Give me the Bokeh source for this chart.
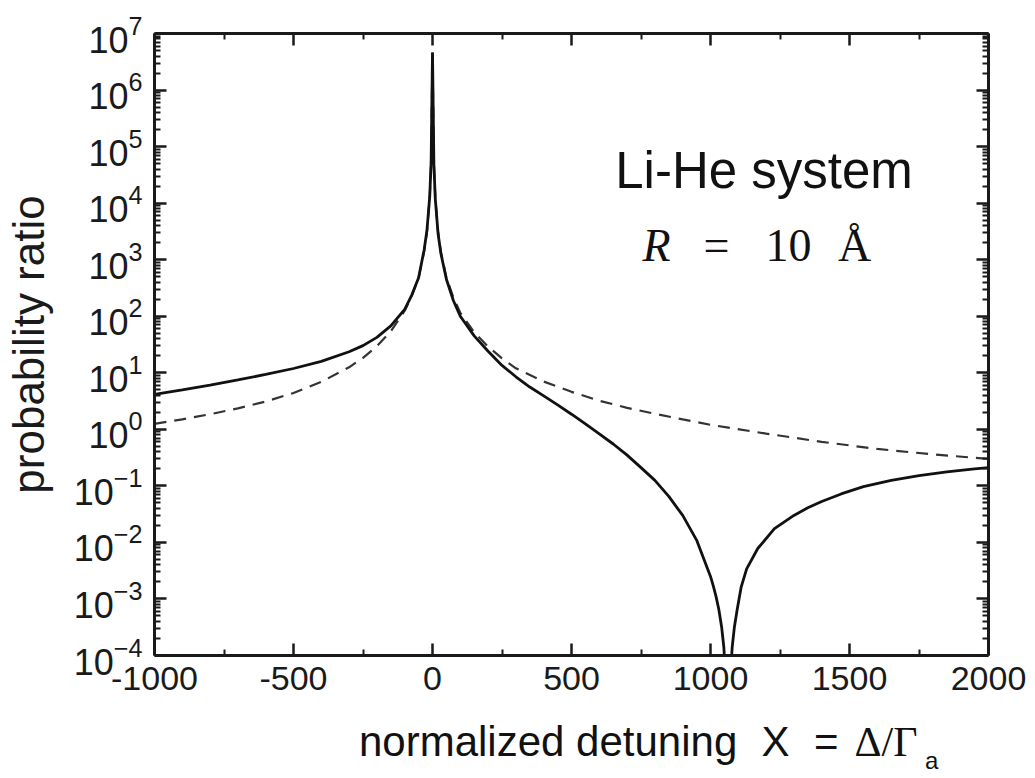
from bokeh.plotting import figure
from bokeh.layouts import column
from bokeh.models import (Range1d, FixedTicker, LogAxis, LinearAxis, Label, LogTickFormatter,
                          CustomJSTickFormatter)
from bokeh.core.properties import value
from bokeh.embed import file_html
from bokeh.resources import INLINE

# ---- data ----
solid_x = [-1000, -900, -800, -700, -600, -500, -400, -300, -250, -200, -150, -100, -75, -50, -30, -20, -10, -5, 0,
           5, 10, 20, 30, 50, 75, 100, 150, 200, 250, 300, 350, 400, 450, 500, 550, 600, 650, 700, 750, 800,
           850, 900, 950, 1000, 1010, 1020, 1030, 1040, 1048, 1056, 1070, 1078, 1086, 1096, 1110, 1130, 1170,
           1230, 1300, 1350, 1400, 1470, 1550, 1650, 1750, 1850, 1950, 2000]
solid_y = [4.15, 4.99, 6.07, 7.46, 9.33, 11.9, 15.9, 23.5, 30.2, 42.2, 67.6, 132, 234, 479, 1500, 3300, 13000,
           52000, 4.6e6,
           48000, 12000, 2900, 1300, 450, 190, 100, 45, 24, 13.5, 8.5, 5.6, 3.9, 2.7, 1.85, 1.25, 0.83, 0.55, 0.35,
           0.21, 0.125, 0.065, 0.03, 0.011, 0.0025, 0.0017, 0.0011, 6.5e-4, 3.2e-4, 1.4e-4, 3e-5, 3e-5, 1.4e-4,
           3.2e-4, 6.5e-4, 0.0016, 0.0034, 0.0078, 0.0175, 0.03, 0.041, 0.053, 0.072, 0.097, 0.125, 0.152, 0.176,
           0.2, 0.21]

dash_x = [-1000, -900, -800, -700, -600, -500, -400, -300, -250, -200, -150, -100, -75, -50, -30, -20, -10, -5, 0,
          5, 10, 20, 30, 50, 75, 100, 150, 200, 250, 300, 400, 500, 600, 700, 800, 900, 1000, 1200, 1400, 1600,
          1800, 2000]
dash_y = [1.25, 1.5, 1.85, 2.35, 3.1, 4.4, 6.9, 12.5, 18.4, 29.5, 54, 125, 225, 480, 1400, 3100, 12500, 50000, 4.6e6,
          50000, 12500, 3100, 1400, 480, 215, 115, 52, 29, 18, 12, 7.0, 4.6, 3.2, 2.4, 1.88, 1.5, 1.2, 0.84, 0.6,
          0.45, 0.36, 0.30]

x_ticks = [-1000, -500, 0, 500, 1000, 1500, 2000]
x_tick_labels = ["-1000", "-500", "0", "500", "1000", "1500", "2000"]
x_minor = [-750, -250, 250, 750, 1250, 1750]
y_exponents = list(range(-4, 8))

INK = "#1a1a1a"
TXT = "#111111"
SANS = "Liberation Sans"
SERIF = "Liberation Serif"

W = 1035
BL, BR = 150, 47
H1, H2 = 710, 66
p = figure(width=W, height=H1, x_range=Range1d(-1000, 2000), y_range=Range1d(1e-4, 1e7),
           y_axis_type="log", output_backend="svg", toolbar_location=None,
           min_border_left=BL, min_border_right=BR, min_border_top=33, min_border_bottom=H1 - 655)
p.outline_line_color = None
p.xgrid.visible = False
p.ygrid.visible = False
p.background_fill_color = "white"
p.border_fill_color = "white"

xt = FixedTicker(ticks=x_ticks, minor_ticks=x_minor)
yt = FixedTicker(ticks=[10.0 ** e for e in y_exponents],
                 minor_ticks=[m * 10.0 ** e for e in y_exponents[:-1] for m in range(2, 10)])


def style(ax):
    ax.axis_line_width = 3
    ax.axis_line_color = INK
    ax.major_tick_in = 12
    ax.major_tick_out = 0
    ax.minor_tick_in = 6
    ax.minor_tick_out = 0
    ax.major_tick_line_width = 2.5
    ax.minor_tick_line_width = 2
    ax.major_tick_line_color = INK
    ax.minor_tick_line_color = INK
    ax.major_label_text_color = INK


bx = p.xaxis[0]
bx.ticker = xt
style(bx)
bx.major_label_overrides = dict(zip(x_ticks, x_tick_labels))
bx.major_label_text_font = SANS
bx.major_label_text_font_size = "34px"
bx.major_label_standoff = 11

ly = p.yaxis[0]
ly.ticker = yt
ly.formatter = LogTickFormatter()
style(ly)
ly.major_label_text_font = SANS
ly.major_label_text_font_size = "36px"
ly.major_label_standoff = 12
ly.axis_label = "probability ratio"
ly.axis_label_text_font = SANS
ly.axis_label_text_font_size = "44px"
ly.axis_label_text_font_style = "normal"
ly.axis_label_text_color = INK
ly.axis_label_standoff = 18

tx = LinearAxis(ticker=xt, formatter=CustomJSTickFormatter(code="return ''"), major_label_standoff=0)
style(tx)
p.add_layout(tx, "above")
ry = LogAxis(ticker=yt, formatter=CustomJSTickFormatter(code="return ''"), major_label_standoff=0)
style(ry)
p.add_layout(ry, "right")

p.line(dash_x, dash_y, line_color="#333333", line_width=2.2, line_dash="12 8")
p.line(solid_x, solid_y, line_color="#111111", line_width=2.8)


# annotations inside the frame (screen units: x from frame left, y up from frame bottom)
def lab(text, x, y, size, font=SANS, style_="normal"):
    p.add_layout(Label(x=x, y=y, x_units="screen", y_units="screen", text=text,
                       text_font=font, text_font_size=size, text_font_style=style_,
                       text_align="center", text_baseline="alphabetic", text_color=TXT))


lab("Li-He system", 609.5, 485, "51px")
lab("R", 502, 410, "46px", SERIF, "italic")
lab("=", 562, 410, "46px", SERIF)
lab("10", 634, 410, "46px", SERIF)
lab("Å", 700, 410, "46px", SERIF)

# x-axis title strip (mixed fonts) under the plot; its frame shares the plot's left/right borders,
# so its x range is expressed in page pixels
q = figure(width=W, height=H2, x_range=Range1d(BL, W - BR), y_range=Range1d(0, H2),
           output_backend="svg", toolbar_location=None, x_axis_location=None, y_axis_location=None,
           min_border_left=BL, min_border_right=BR, min_border_top=0, min_border_bottom=0)
q.outline_line_color = None
q.xgrid.visible = False
q.ygrid.visible = False
q.background_fill_color = "white"
q.border_fill_color = "white"


def qtext(t, x, y, size, font=SANS):
    q.text(x=[x], y=[y], text=[t], text_font=value(font), text_font_size=size,
           text_align="center", text_baseline="alphabetic", text_color=TXT)


qtext("normalized detuning", 545.5, 35, "42px")
qtext("X", 774, 35, "42px")
qtext("=", 825, 35, "42px")
qtext("Δ/Γ", 885, 35, "42px", SERIF)
qtext("a", 931, 16, "24px")

layout = column(p, q, spacing=0)
open("out.html", "w").write(file_html(layout, INLINE))
